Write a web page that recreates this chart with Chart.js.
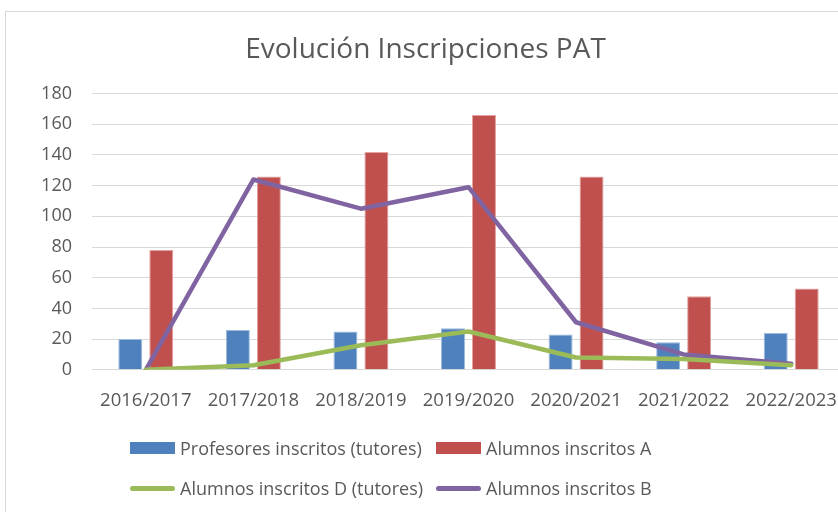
<!DOCTYPE html>
<html>
<head>
<meta charset="utf-8">
<script src="https://cdn.jsdelivr.net/npm/chart.js@4/dist/chart.umd.min.js"></script>
<style>
    html, body { margin: 0; padding: 0; background: #fff; overflow: hidden; width: 838px; height: 512px; }
    #frame { position: absolute; left: 5px; top: 11px; width: 844px; height: 505px; border: 1px solid #d9d9d9; box-sizing: border-box; }
    #chart { display: block; }
    #legend { position: absolute; left: 124px; top: 424px; display: grid; grid-template-columns: 306px auto; row-gap: 16px;
              font-family: "Open Sans", sans-serif; font-size: 18px; color: #595959; }
    .item { display: flex; align-items: center; white-space: nowrap; height: 24px; }
    .mark { flex: 0 0 45px; margin-right: 5px; }
</style>
</head>
<body>
<div id="frame">
    <canvas id="chart" width="842" height="503"></canvas>
    <div id="legend"></div>
</div>
<script>
(function() {
    'use strict';

    // --- Chart data ---
    const categories = ['2016/2017', '2017/2018', '2018/2019', '2019/2020', '2020/2021', '2021/2022', '2022/2023'];
    const profesores = [20, 26, 25, 27, 23, 18, 24];
    const alumnosA = [78, 126, 142, 166, 126, 48, 53];
    const alumnosD = [0, 3, 16, 25, 8, 7, 3];
    const alumnosB = [0, 124, 105, 119, 31, 10, 4];
    const yTicks = { min: 0, max: 180, step: 20 };

    const textColor = '#595959';
    const fontFamily = '"Open Sans", sans-serif';

    const ctx = document.getElementById('chart').getContext('2d');

    const chart = new Chart(ctx, {
        data: {
            labels: categories,
            datasets: [
                { type: 'bar', label: 'Profesores inscritos (tutores)', data: profesores,
                  backgroundColor: '#4F81BD', borderColor: '#9dbbe0', borderWidth: 1, order: 2,
                  barPercentage: 0.774, categoryPercentage: 0.576 },
                { type: 'bar', label: 'Alumnos inscritos A', data: alumnosA,
                  backgroundColor: '#C0504D', borderColor: '#e3a3a1', borderWidth: 1, order: 2,
                  barPercentage: 0.774, categoryPercentage: 0.576 },
                { type: 'line', label: 'Alumnos inscritos D (tutores)', data: alumnosD,
                  borderColor: '#9BBB59', backgroundColor: '#9BBB59', borderWidth: 4.5, pointRadius: 0,
                  tension: 0, order: 0, borderJoinStyle: 'round', borderCapStyle: 'round' },
                { type: 'line', label: 'Alumnos inscritos B', data: alumnosB,
                  borderColor: '#8064A2', backgroundColor: '#8064A2', borderWidth: 4.5, pointRadius: 0,
                  tension: 0, order: 1, borderJoinStyle: 'round', borderCapStyle: 'round' }
            ]
        },
        options: {
            responsive: false,
            animation: false,
            layout: { padding: { left: 0, right: 3, top: 0, bottom: 83 } },
            plugins: {
                legend: { display: false },
                tooltip: { enabled: false },
                title: {
                    display: true,
                    text: 'Evolución Inscripciones PAT',
                    color: textColor,
                    font: { family: fontFamily, size: 28, weight: 'normal' },
                    padding: { top: 21, bottom: 27 }
                }
            },
            scales: {
                x: {
                    grid: { display: false, drawTicks: false },
                    border: { display: false },
                    ticks: { color: textColor, font: { family: fontFamily, size: 18.5 }, padding: 20, maxRotation: 0 },
                    // no extra side padding for the outer labels
                    afterFit: (scale) => { scale.paddingLeft = 0; scale.paddingRight = 0; }
                },
                y: {
                    min: yTicks.min,
                    max: yTicks.max,
                    grid: { color: '#d9d9d9', lineWidth: 1, drawTicks: false },
                    border: { display: false },
                    ticks: { stepSize: yTicks.step, color: textColor, font: { family: fontFamily, size: 18 }, padding: 20 },
                    afterFit: (scale) => { scale.width = 86; }
                }
            }
        }
    });

    // --- HTML legend, built from the chart's datasets ---
    const legend = document.getElementById('legend');
    chart.data.datasets.forEach(ds => {
        const item = document.createElement('div');
        item.className = 'item';
        const mark = document.createElement('span');
        mark.className = 'mark';
        mark.style.background = ds.type === 'bar' ? ds.backgroundColor : ds.borderColor;
        mark.style.height = ds.type === 'bar' ? '12px' : '5px';
        if (ds.type === 'line') mark.style.borderRadius = '3px';
        item.appendChild(mark);
        item.appendChild(document.createTextNode(ds.label));
        legend.appendChild(item);
    });
})();
</script>
</body>
</html>
